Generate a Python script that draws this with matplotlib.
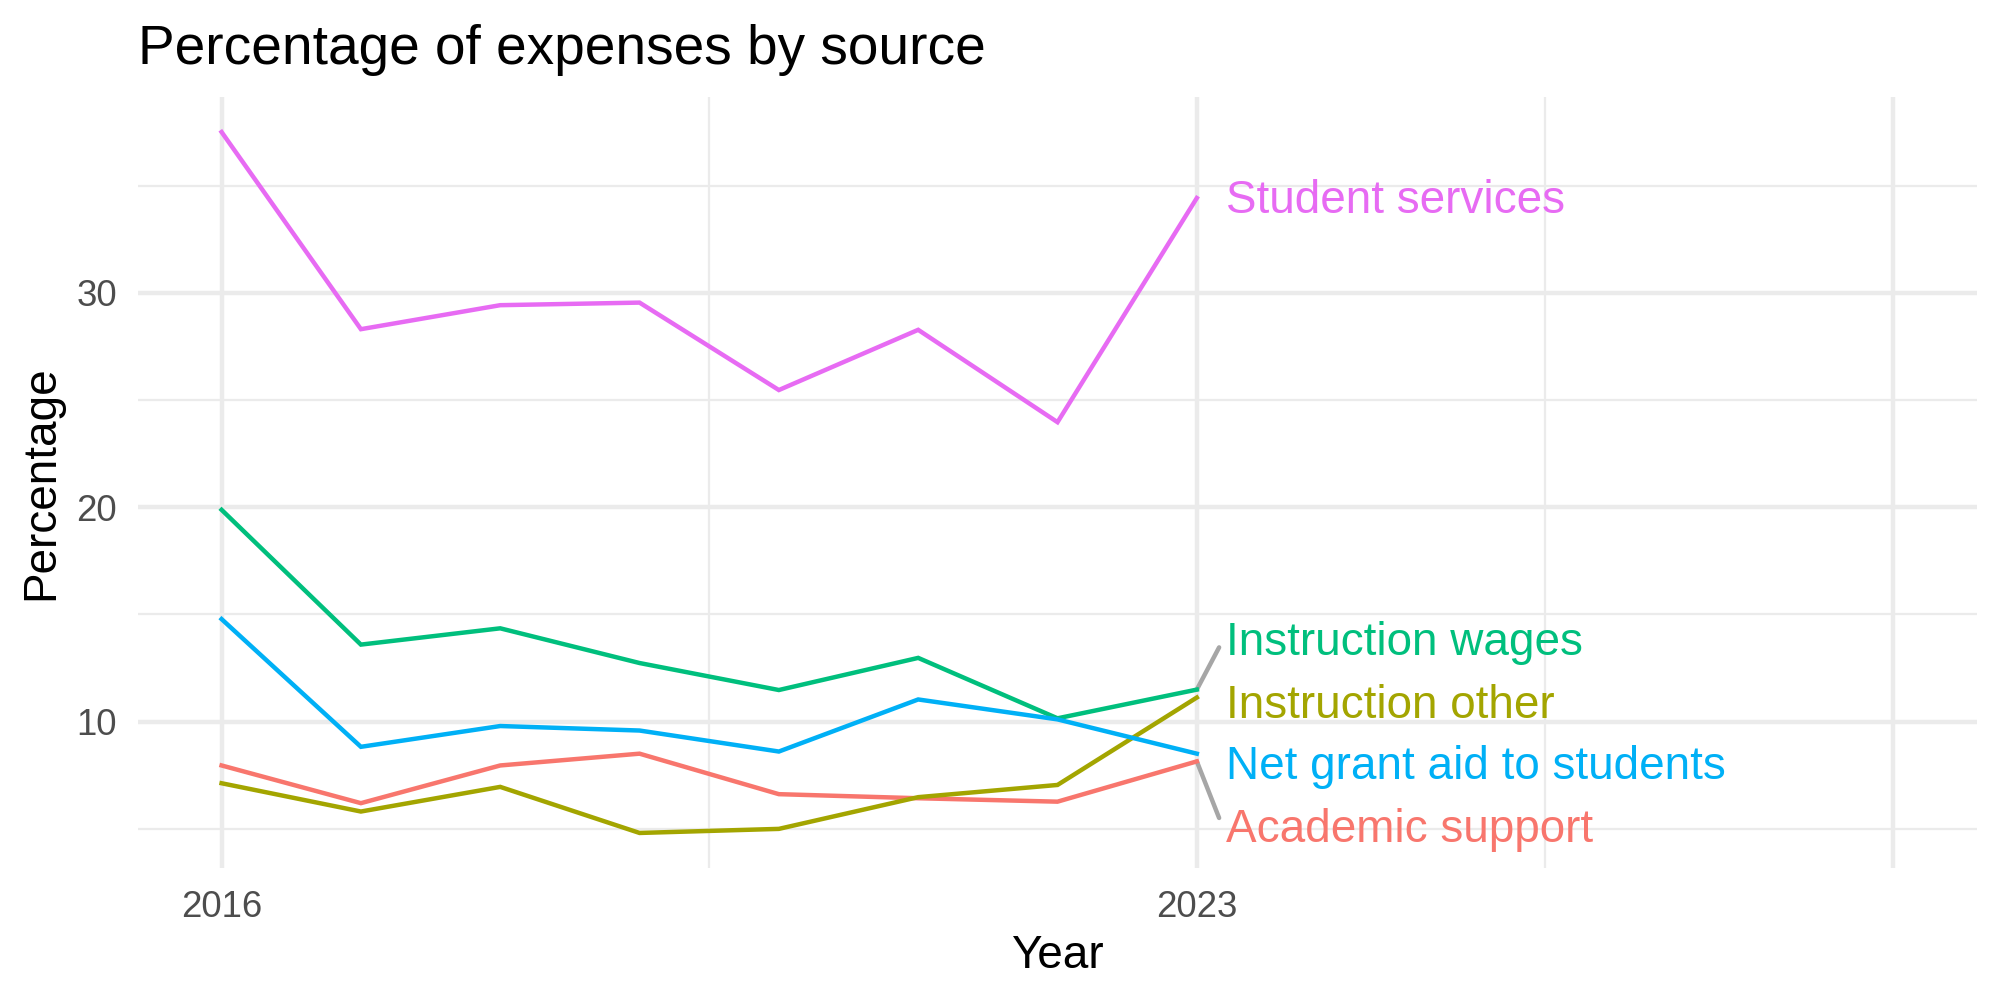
import numpy as np
import matplotlib
matplotlib.use("Agg")
import matplotlib.pyplot as plt

plt.rcParams['font.family'] = ['Liberation Sans', 'DejaVu Sans']

years = [2016, 2017, 2018, 2019, 2020, 2021, 2022, 2023]

academic_support = [7.95, 6.19, 7.95, 8.50, 6.61, 6.42, 6.26, 8.14]
instruction_other = [7.12, 5.80, 6.95, 4.80, 4.99, 6.47, 7.04, 11.12]
instruction_wages = [19.88, 13.59, 14.35, 12.73, 11.47, 12.97, 10.15, 11.49]
net_grant_aid = [14.78, 8.82, 9.79, 9.58, 8.60, 11.03, 10.10, 8.50]
student_services = [37.51, 28.31, 29.43, 29.55, 25.47, 28.28, 23.97, 34.43]

sources = ['Academic support', 'Instruction other', 'Instruction wages',
           'Net grant aid to students', 'Student services']
colors = ['#F8766D', '#A3A500', '#00BF7D', '#00B0F6', '#E76BF3']
series = [academic_support, instruction_other, instruction_wages,
          net_grant_aid, student_services]

# repelled label positions (x, y centre) and whether a leader segment is drawn
label_x = 2023.21
label_y = [5.10, 10.92, 13.86, 8.05, 34.47]
has_segment = [True, False, True, False, False]

x_breaks = [2016, 2023, 2028]
x_labels = ['2016', '2023', '']
x_minor = [2019.5, 2025.5]
y_breaks = [10, 20, 30]
y_minor = [5, 15, 25, 35]

fig = plt.figure(figsize=(20 / 3, 10 / 3), dpi=300)
ax = fig.add_axes([0.069, 0.132, 0.9195, 0.771])

for name, vals, col in zip(sources, series, colors):
    ax.plot(years, vals, color=col, lw=1.07, solid_joinstyle='miter', zorder=3)

for name, vals, col, ly, seg in zip(sources, series, colors, label_y, has_segment):
    last = vals[-1]
    if seg:
        dy = 0.4 if ly > last else -0.4
        ax.plot([years[-1], label_x - 0.05], [last, ly - dy],
                color='#A6A6A6', lw=1.07, zorder=2, solid_capstyle='round')
    ax.annotate(name, xy=(label_x, ly), xytext=(0, -3.8), textcoords='offset points',
                color=col, fontsize=11, ha='left', va='baseline', zorder=4)

allv = np.concatenate([np.array(s) for s in series])
lo, hi = allv.min(), allv.max()
pad = 0.05 * (hi - lo)
ax.set_ylim(lo - pad, hi + pad)
ax.set_xlim(2015.4, 2028.6)

ax.set_xticks(x_breaks)
ax.set_xticklabels(x_labels)
ax.set_xticks(x_minor, minor=True)
ax.set_yticks(y_breaks)
ax.set_yticks(y_minor, minor=True)

ax.grid(which='major', color='#EBEBEB', lw=1.07)
ax.grid(which='minor', color='#EBEBEB', lw=0.53)
ax.set_axisbelow(True)
for s in ax.spines.values():
    s.set_visible(False)
ax.tick_params(which='both', length=0)
ax.tick_params(axis='x', pad=5.2, labelsize=8.8, labelcolor='#4D4D4D')
ax.tick_params(axis='y', pad=5.0, labelsize=8.8, labelcolor='#4D4D4D')

ax.set_xlabel('Year', fontsize=11, labelpad=2.2)
ax.set_ylabel('Percentage', fontsize=11, labelpad=3.3)

fig.text(0.069, 1 - 0.064, 'Percentage of expenses by source', fontsize=13.2,
         ha='left', va='baseline')

fig.savefig('out.png', dpi=300, facecolor='white')
